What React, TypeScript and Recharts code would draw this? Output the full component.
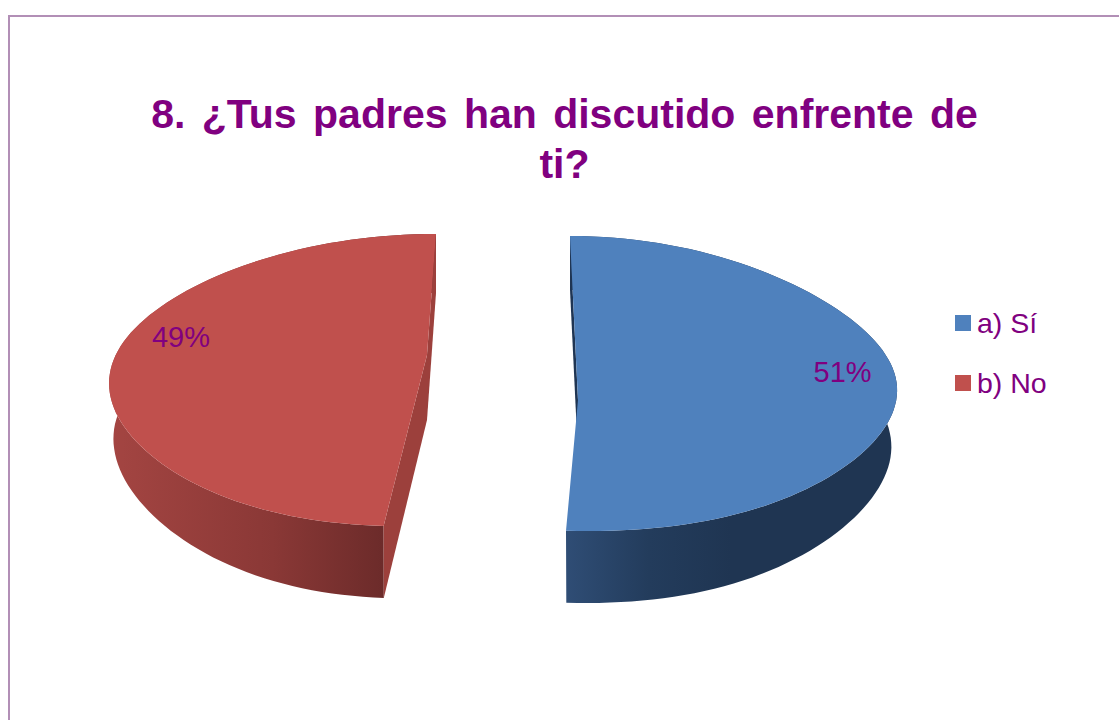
import { PieChart, Pie, Legend } from "recharts";

const categories = ["a) Sí", "b) No"];
const shares = [51, 49];
const colors = ["#4f81bd", "#c0504d"];
const titleLines = ["8. ¿Tus padres han discutido enfrente de", "ti?"];

const rows = categories.map((name, i) => ({ name, value: shares[i], fill: colors[i] }));

const PURPLE = "#800080";
const FONT = '"Liberation Sans", Arial, sans-serif';

// each slice has its own skewed projection, the source chart is a distorted 3d pie
const views = [
  {
    x: 578, y: 400, rx: 319, ry: 145.7, k: -0.112, skew: -8, tilt: -13,
    apexDx: 0, apexDy: 0, apexH: 56, h0: 56, h1: 9, h2: 7, lowerScale: 0.982,
    side: "#1f3553",
    wall: [["0", "#2f4d75"], ["0.25", "#233c5c"], ["0.5", "#1f3552"], ["1", "#1f3552"]],
    labelR: 0.83, labelDy: -32,
  },
  {
    x: 419.5, y: 385, rx: 310, ry: 146, k: -0.034, skew: 16.5, tilt: 9,
    apexDx: 7.5, apexDy: -30, apexH: 65, h0: 55, h1: 6.5, h2: 10.5, lowerScale: 0.986,
    side: "#9c403c",
    wall: [["0", "#a44542"], ["0.5", "#8a3836"], ["0.84", "#6c2b2a"], ["1", "#6c2b2a"]],
    labelR: 0.77, labelDy: -44,
  },
];

type View = (typeof views)[number];

const project = (view: View, deg: number, lower: boolean) => {
  const a = (deg * Math.PI) / 180;
  const u = Math.cos(a);
  const v = Math.sin(a);
  const s = lower ? view.lowerScale : 1;
  const flat = view.tilt * u * u * u * (1 - v);
  const wallHeight = view.h0 - view.h1 * v + view.h2 * v * v;
  return {
    x: view.x + view.rx * s * u + view.skew * v,
    y: view.y - (view.ry * v) / (1 + view.k * v) + flat + (lower ? wallHeight : 0),
  };
};

const rim = (view: View, from: number, to: number, lower: boolean) => {
  const n = Math.ceil(Math.abs(to - from) / 2);
  const pts = [];
  for (let i = 0; i <= n; i++) pts.push(project(view, from + ((to - from) * i) / n, lower));
  return pts;
};

const toPoints = (pts: { x: number; y: number }[]) =>
  pts.map((p) => `${p.x.toFixed(1)},${p.y.toFixed(1)}`).join(" ");

const Slice3D = (props: any) => {
  const { index, startAngle, endAngle, midAngle, fill } = props;
  const view = views[index];
  const apex = { x: view.x + view.apexDx, y: view.y + view.apexDy };
  const lowerApex = { x: apex.x, y: apex.y + view.apexH };
  const top = rim(view, startAngle, endAngle, false);
  const bottom = rim(view, startAngle, endAngle, true);
  const wall = [...top, ...[...bottom].reverse()];
  const gradId = `wall-${index}`;
  const showEndFace = Math.cos((midAngle * Math.PI) / 180) < 0;
  const backFace = [top[0], bottom[0], lowerApex, apex];
  const endFace = [top[top.length - 1], bottom[bottom.length - 1], lowerApex, apex];
  return (
    <g>
      <defs>
        <linearGradient id={gradId} x1="0" y1="0" x2="1" y2="0">
          {view.wall.map(([offset, color]) => (
            <stop key={offset} offset={offset} stopColor={color} />
          ))}
        </linearGradient>
      </defs>
      <polygon points={toPoints(wall)} fill={`url(#${gradId})`} />
      <polygon points={toPoints(backFace)} fill={view.side} />
      {showEndFace && <polygon points={toPoints(endFace)} fill={view.side} />}
      <polygon points={toPoints([...top, apex])} fill={fill} />
    </g>
  );
};

const renderLabel = (props: any) => {
  const view = views[props.index];
  const a = (props.midAngle * Math.PI) / 180;
  const x = view.x + view.rx * view.labelR * Math.cos(a);
  const y = view.y - view.ry * view.labelR * Math.sin(a) + view.labelDy;
  return (
    <text
      key={props.index}
      x={x}
      y={y}
      textAnchor="middle"
      dominantBaseline="central"
      fill={PURPLE}
      fontFamily={FONT}
      fontSize={29}
    >
      {`${Math.round(props.percent * 100)}%`}
    </text>
  );
};

const renderLegend = (props: any) => (
  <div>
    {props.payload.map((item: any) => (
      <div
        key={item.value}
        style={{
          display: "flex",
          alignItems: "center",
          height: 60,
          fontFamily: FONT,
          fontSize: 28.5,
          color: PURPLE,
        }}
      >
        <span
          style={{
            width: 16,
            height: 16,
            marginRight: 6,
            background: item.color,
          }}
        />
        {item.value}
      </div>
    ))}
  </div>
);

export default function App() {
  return (
    <div
      style={{
        position: "absolute",
        left: 0,
        top: 0,
        width: 1119,
        height: 720,
        overflow: "hidden",
        background: "#fff",
      }}
    >
      <div
        style={{
          position: "absolute",
          left: 8,
          top: 15,
          width: 1200,
          height: 800,
          border: "2px solid #b28fb6",
        }}
      />
      <div
        style={{
          position: "absolute",
          left: 0,
          top: 89,
          width: 1129,
          textAlign: "center",
          fontFamily: FONT,
          fontWeight: "bold",
          fontSize: 41,
          wordSpacing: 5,
          lineHeight: "50px",
          color: PURPLE,
        }}
      >
        {titleLines.map((line) => (
          <div key={line}>{line}</div>
        ))}
      </div>
      <PieChart width={1119} height={720} style={{ position: "absolute", left: 0, top: 0 }}>
        <Pie
          data={rows}
          dataKey="value"
          nameKey="name"
          cx={500}
          cy={400}
          outerRadius={150}
          startAngle={90}
          endAngle={-270}
          stroke="none"
          shape={Slice3D}
          label={renderLabel}
          labelLine={false}
          isAnimationActive={false}
        />
        <Legend
          layout="vertical"
          content={renderLegend}
          wrapperStyle={{ position: "absolute", left: 955, top: 293, width: 160, height: 120 }}
        />
      </PieChart>
    </div>
  );
}
